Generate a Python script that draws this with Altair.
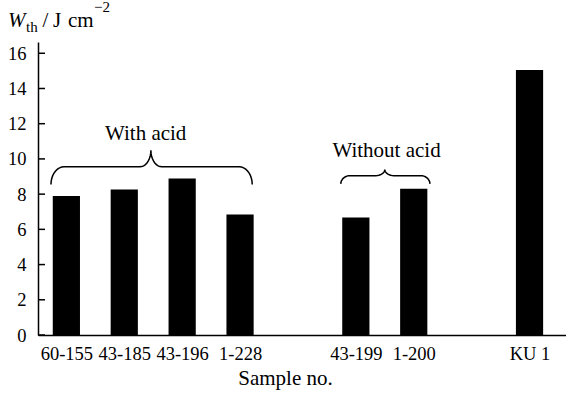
import altair as alt
import numpy as np
import pandas as pd

# Threshold fluence per sample
samples = ["60-155", "43-185", "43-196", "1-228", "43-199", "1-200", "KU 1"]
w_th = [7.90, 8.27, 8.89, 6.84, 6.67, 8.30, 15.05]
# slot of each sample along the axis (slots 4 and 7 are left empty as group gaps)
slots = [0, 1, 2, 3, 5, 6, 8]
n_slots = 9
y_ticks = [0, 2, 4, 6, 8, 10, 12, 14, 16]

# Group annotations
groups = ["With acid", "Without acid"]
group_label_x = [1.37, 5.53]
group_label_y = [11.06, 10.11]
brace_x0 = [-0.266, 4.74]
brace_x1 = [3.21, 6.28]
brace_mid = [1.46, 5.50]
brace_end_y = [8.55, 8.58]
brace_bar_y = [9.55, 9.05]
brace_tip_y = [10.49, 9.40]
brace_end_r = [0.225, 0.16]
brace_tip_r = [0.19, 0.155]

FONT = "Liberation Serif, Times New Roman, serif"
W, H = 528, 293
x_scale = alt.Scale(domain=[-0.49, 8.63], nice=False, zero=False)
y_scale = alt.Scale(domain=[0, 16.64], nice=False, zero=True)

bars_df = pd.DataFrame({"sample": samples, "value": w_th, "slot": slots})
tick_df = pd.DataFrame({"t": y_ticks})

labels_by_slot = [""] * n_slots
for s, name in zip(slots, samples):
    labels_by_slot[s] = name
label_expr = "[" + ",".join("'" + t + "'" for t in labels_by_slot) + "][datum.value]"

x_axis = alt.Axis(
    values=slots, labelExpr=label_expr, ticks=False, grid=False,
    domainColor="black", domainWidth=1.5, labelFont=FONT, labelFontSize=18.5,
    labelColor="black", labelPadding=9, labelAngle=0,
    title="Sample no.", titleFont=FONT, titleFontSize=21, titleFontWeight="normal",
    titleColor="black", titleX=247, titleY=49, titleAlign="center",
    titleBaseline="alphabetic", titleAnchor="start")
y_axis = alt.Axis(
    orient="left", values=y_ticks, ticks=False, grid=False,
    domainColor="black", domainWidth=1.5, labelFont=FONT, labelFontSize=18.5,
    labelColor="black", labelPadding=12, labelBaseline="middle", title="")


def brace_points(name, x0, x1, xm, y_end, y_bar, y_tip, r_end, r_tip, n=10):
    """Curly brace opening downward, built from four quarter-ellipse arcs."""
    pts = []
    t = np.linspace(0, np.pi / 2, n)
    for a in t:  # left hook
        pts.append((x0 + r_end * (1 - np.cos(a)), y_end + (y_bar - y_end) * np.sin(a)))
    for a in t:  # rising into the tip
        pts.append((xm - r_tip + r_tip * np.sin(a), y_tip - (y_tip - y_bar) * np.cos(a)))
    for a in t[::-1]:  # falling out of the tip
        pts.append((xm + r_tip - r_tip * np.sin(a), y_tip - (y_tip - y_bar) * np.cos(a)))
    for a in t[::-1]:  # right hook
        pts.append((x1 - r_end * (1 - np.cos(a)), y_end + (y_bar - y_end) * np.sin(a)))
    return [{"group": name, "order": i, "bx": float(px), "by": float(py)}
            for i, (px, py) in enumerate(pts)]


brace_rows = []
for i, g in enumerate(groups):
    brace_rows += brace_points(g, brace_x0[i], brace_x1[i], brace_mid[i],
                               brace_end_y[i], brace_bar_y[i], brace_tip_y[i],
                               brace_end_r[i], brace_tip_r[i])
brace_df = pd.DataFrame(brace_rows)
group_df = pd.DataFrame({"label": groups, "gx": group_label_x, "gy": group_label_y})

bars = alt.Chart(bars_df).transform_calculate(
    lo="datum.slot - 0.235", hi="datum.slot + 0.235"
).mark_bar(color="black").encode(
    x=alt.X("lo:Q", scale=x_scale, axis=x_axis),
    x2="hi:Q",
    y=alt.Y("value:Q", scale=y_scale, axis=y_axis),
    y2=alt.datum(0),
)

# short inward tick marks on the left edge
ticks = alt.Chart(tick_df).mark_rule(color="black", strokeWidth=1.5).encode(
    x=alt.value(0), x2=alt.value(7),
    y=alt.Y("t:Q", scale=y_scale, axis=y_axis),
)

braces = alt.Chart(brace_df).mark_line(color="black", strokeWidth=1.5).encode(
    x=alt.X("bx:Q", scale=x_scale, axis=x_axis),
    y=alt.Y("by:Q", scale=y_scale, axis=y_axis),
    detail="group:N",
    order="order:Q",
)

group_text = alt.Chart(group_df).mark_text(
    font=FONT, fontSize=21, color="black", align="center", baseline="alphabetic"
).encode(
    x=alt.X("gx:Q", scale=x_scale, axis=x_axis),
    y=alt.Y("gy:Q", scale=y_scale, axis=y_axis),
    text="label:N",
)

# y-axis title W_th / J cm^-2 assembled from pieces
one = alt.Data(values=[{}])
def piece(txt, x, y, size, style="normal"):
    return alt.Chart(one).mark_text(
        text=txt, font=FONT, fontSize=size, fontStyle=style, color="black",
        align="left", baseline="alphabetic"
    ).encode(x=alt.value(x), y=alt.value(y))

y_title = [
    piece("W", -30, -15.3, 21, "italic"),
    piece("th", -12, -10.3, 15),
    piece("/", 4.5, -15.3, 21),
    piece("J", 15, -15.3, 21),
    piece("cm", 30, -15.3, 21),
    piece("\u22122", 56, -30.3, 15),
]

chart = alt.layer(bars, ticks, braces, group_text, *y_title).properties(
    width=W, height=H,
    padding={"left": 38, "top": 42, "right": 0, "bottom": 59},
    autosize=alt.AutoSizeParams(type="none"),
    background="white",
).configure_view(strokeWidth=0)

chart.save("out.html", embed_options={"renderer": "svg", "actions": False})
